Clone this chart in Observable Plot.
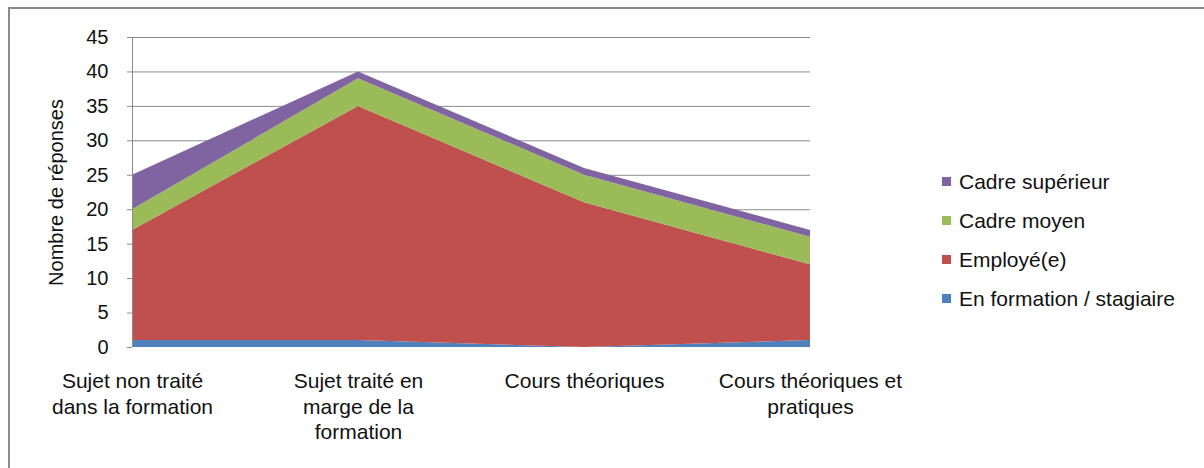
<!DOCTYPE html>
<html>
<head>
<meta charset="utf-8">
<script src="https://cdn.jsdelivr.net/npm/d3@7"></script>
<script src="https://cdn.jsdelivr.net/npm/@observablehq/plot@0.6"></script>
<style>
  html, body { margin: 0; padding: 0; background: #fff; }
  #wrap { position: relative; width: 1204px; height: 468px; overflow: hidden; font-family: "Liberation Sans", Arial, sans-serif; }
  #frame { position: absolute; left: 8px; top: 7px; width: 1300px; height: 600px; border-left: 2px solid #8a8a8a; border-top: 2px solid #8a8a8a; box-sizing: border-box; }
  #legend { position: absolute; left: 942px; top: 162px; }
  .item { display: flex; align-items: center; height: 39px; font-size: 21px; color: #111; }
  .sw { width: 9px; height: 9px; margin-right: 8px; }
  svg { position: absolute; left: 0; top: 0; }
</style>
</head>
<body>
<div id="wrap"><div id="frame"></div><div id="legend"></div></div>
<script>
const categories = [
  "Sujet non traité dans la formation",
  "Sujet traité en marge de la formation",
  "Cours théoriques",
  "Cours théoriques et pratiques"
];
const tickLabels = [
  "Sujet non traité\ndans la formation",
  "Sujet traité en\nmarge de la\nformation",
  "Cours théoriques",
  "Cours théoriques et\npratiques"
];
const seriesNames = ["En formation / stagiaire", "Employé(e)", "Cadre moyen", "Cadre supérieur"];
const seriesColors = ["#4F81BD", "#C0504D", "#9BBB59", "#8064A2"];
const stagiaire = [1, 1, 0, 1];
const employe = [16, 34, 21, 11];
const cadreMoyen = [3, 4, 4, 4];
const cadreSup = [5, 1, 1, 1];
const yTicks = [0, 5, 10, 15, 20, 25, 30, 35, 40, 45];

const seriesValues = [stagiaire, employe, cadreMoyen, cadreSup];
const data = [];
seriesNames.forEach((s, i) => categories.forEach((c, j) => data.push({cat: c, series: s, value: seriesValues[i][j]})));

const chart = Plot.plot({
  width: 1204,
  height: 468,
  marginLeft: 132,
  marginRight: 394,
  marginTop: 37,
  marginBottom: 121,
  style: {fontFamily: "Liberation Sans, Arial, sans-serif", fontSize: "21px", color: "#111", background: "transparent"},
  x: {type: "point", domain: categories, padding: 0},
  y: {domain: [0, 45]},
  color: {domain: seriesNames, range: seriesColors},
  marks: [
    Plot.gridY(yTicks.slice(1), {stroke: "#8a8a8a", strokeOpacity: 1, strokeWidth: 1}),
    Plot.areaY(data, {x: "cat", y: "value", z: "series", fill: "series", order: seriesNames, fillOpacity: 1}),
    Plot.ruleX([categories[0]], {y1: 0, y2: 45, stroke: "#8a8a8a"}),
    Plot.axisY({ticks: yTicks, tickSize: 5, tickPadding: 19, stroke: "#8a8a8a", fontSize: 20,
      label: "Nombre de réponses", labelAnchor: "center", labelArrow: "none", labelOffset: 84}),
    Plot.axisX({tickSize: 0, tickPadding: 23, fontSize: 21, lineHeight: 1.2,
      tickFormat: d => tickLabels[categories.indexOf(d)], label: null})
  ]
});
document.getElementById("wrap").appendChild(chart);

const legend = document.getElementById("legend");
[...seriesNames].reverse().forEach((s, k) => {
  const i = seriesNames.length - 1 - k;
  const div = document.createElement("div");
  div.className = "item";
  div.innerHTML = `<span class="sw" style="background:${seriesColors[i]}"></span><span>${s}</span>`;
  legend.appendChild(div);
});
</script>
</body>
</html>
